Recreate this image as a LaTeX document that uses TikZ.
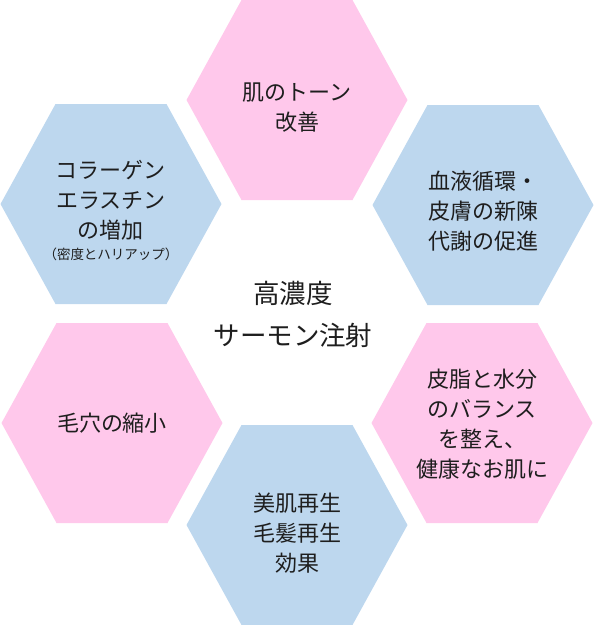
\documentclass[tikz,border=0pt]{standalone}
\usepackage{fontspec}
\setmainfont{Noto Sans CJK JP}
\usepackage{tikz}
\usetikzlibrary{positioning}
\definecolor{hexPink}{RGB}{255,200,235}
\definecolor{hexBlue}{RGB}{189,215,238}
\definecolor{txtGray}{RGB}{30,30,30}
\tikzset{
  hexlabel/.style={font=\fontsize{22}{30}\selectfont,align=center,text=txtGray,inner sep=0pt},
  hubtext/.style={font=\fontsize{26.5}{42}\selectfont,align=center,text=txtGray,inner sep=0pt},
  subnote/.style={font=\fontsize{13.5}{15}\selectfont,align=center,text=txtGray,inner sep=0pt},
}

\begin{document}
\begin{tikzpicture}[x=1pt,y=-1pt]
  \useasboundingbox (0,0) rectangle (594,625);
  %% ── Hexagons (flat top, pointed sides) ──────────────────────────────────
  \foreach \n/\x/\y/\c in {tone/297/100/hexPink,flow/483/205/hexBlue,balance/482/423/hexPink,
                           regen/297/525/hexBlue,pore/112/423/hexPink,collagen/111/204/hexBlue}{
    \fill[\c] (\x-110.5,\y) -- (\x-55.5,\y-100) -- (\x+55.5,\y-100) -- (\x+110.5,\y)
              -- (\x+55.5,\y+100) -- (\x-55.5,\y+100) -- cycle;
    \coordinate (\n) at (\x,\y);
  }

  %% ── Labels ──────────────────────────────────────────────────────────────
  \node[hubtext]  (hub)          at (293,314) {高濃度\\サーモン注射};
  \node[hexlabel] (toneText)     at (297,108) {肌のトーン\\改善};
  \node[hexlabel] (flowText)     at (483,211) {血液循環・\\皮膚の新陳\\代謝の促進};
  \node[hexlabel] (balanceText)  at (482,424) {皮脂と水分\\のバランス\\を整え、\\健康なお肌に};
  \node[hexlabel] (regenText)    at (297,533) {美肌再生\\毛髪再生\\効果};
  \node[hexlabel] (poreText)     at (112,423) {毛穴の縮小};
  \node[hexlabel] (collagenText) at (111,200) {コラーゲン\\エラスチン\\の増加};
  \node[subnote,below=8pt of collagenText] (collagenNote) {（密度とハリアップ）};
\end{tikzpicture}
\end{document}
